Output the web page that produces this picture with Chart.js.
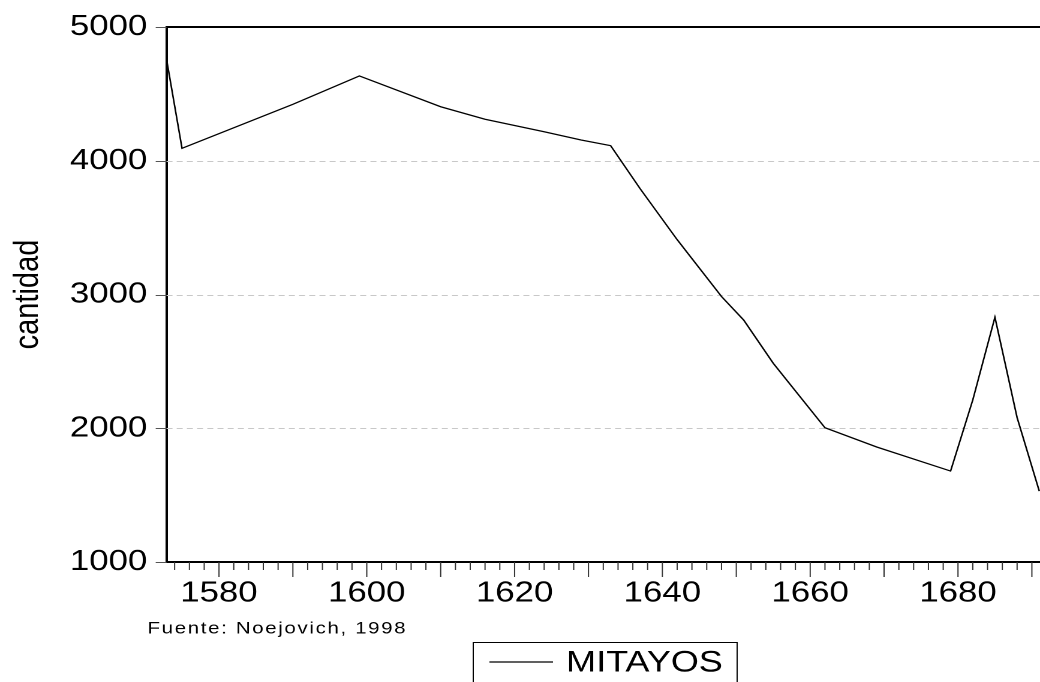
<!DOCTYPE html>
<html>
<head>
<meta charset="utf-8">
<script src="https://cdn.jsdelivr.net/npm/chart.js@4.4.1/dist/chart.umd.min.js"></script>
<style>
html, body { margin: 0; padding: 0; background: #fff; overflow: hidden; }
/* the reference is drawn a bit wider than tall, so the whole chart is stretched sideways */
#wrap { width: 867px; height: 682px; transform: scaleX(1.19954); transform-origin: 0 0; }
</style>
</head>
<body>
<div id="wrap"><canvas id="chart" width="867" height="682"></canvas></div>
<script>
// data
const years   = [1573, 1575, 1590, 1599, 1610, 1616, 1624, 1629, 1633, 1637, 1642, 1648, 1651, 1655, 1659, 1662, 1669, 1679, 1682, 1685, 1688, 1691];
const mitayos = [4729, 4093, 4422, 4634, 4404, 4310, 4217, 4155, 4113, 3790, 3410, 2985, 2809, 2486, 2210, 2004, 1860, 1680, 2211, 2830, 2080, 1530];
const yTicks = [1000, 2000, 3000, 4000, 5000];
const xLabelYears = [1580, 1600, 1620, 1640, 1660, 1680];
const seriesName = 'MITAYOS';
const yTitle = 'cantidad';
const sourceNote = 'Fuente: Noejovich, 1998';

const FONT = '"Liberation Sans", Arial, sans-serif';

const decor = {
    id: 'decor',
    beforeDatasetsDraw(chart) {
        const ctx = chart.ctx;
        const a = chart.chartArea;
        const x = chart.scales.x, y = chart.scales.y;
        ctx.save();

        // dashed grid lines
        ctx.strokeStyle = '#c8c8c8';
        ctx.lineWidth = 1;
        ctx.setLineDash([5, 3.5]);
        yTicks.forEach(v => {
            if (v <= y.min || v >= y.max) return;
            const py = Math.round(y.getPixelForValue(v)) + 0.5;
            ctx.beginPath();
            ctx.moveTo(a.left, py);
            ctx.lineTo(a.right, py);
            ctx.stroke();
        });
        ctx.setLineDash([]);

        // top frame line
        ctx.strokeStyle = '#000';
        ctx.lineWidth = 2;
        const top = y.getPixelForValue(y.max);
        ctx.beginPath();
        ctx.moveTo(a.left, top);
        ctx.lineTo(a.right, top);
        ctx.stroke();

        // y tick marks
        ctx.strokeStyle = '#555';
        ctx.lineWidth = 1;
        yTicks.forEach(v => {
            const py = Math.round(y.getPixelForValue(v)) + 0.5;
            ctx.beginPath();
            ctx.moveTo(a.left - 9, py);
            ctx.lineTo(a.left, py);
            ctx.stroke();
        });

        // x tick marks: every 2 years, longer every 10
        ctx.strokeStyle = '#333';
        for (let yr = Math.ceil(x.min / 2) * 2; yr <= x.max; yr += 2) {
            const px = x.getPixelForValue(yr);
            const len = yr % 10 === 0 ? 15 : 8;
            ctx.beginPath();
            ctx.moveTo(px, a.bottom);
            ctx.lineTo(px, a.bottom + len);
            ctx.stroke();
        }
        ctx.restore();
    },
    afterDraw(chart) {
        const ctx = chart.ctx;
        ctx.save();
        // source note
        ctx.fillStyle = '#000';
        ctx.font = '17px ' + FONT;
        ctx.letterSpacing = '1.4px';
        ctx.textBaseline = 'middle';
        ctx.fillText(sourceNote, 123, 629);
        ctx.letterSpacing = '0px';

        // legend box
        ctx.strokeStyle = '#000';
        ctx.lineWidth = 1;
        ctx.strokeRect(394.5, 642.5, 220, 60);
        ctx.lineWidth = 1.2;
        ctx.beginPath();
        ctx.moveTo(408, 662);
        ctx.lineTo(461, 662);
        ctx.stroke();
        ctx.font = '30px ' + FONT;
        ctx.fillText(chart.data.datasets[0].label, 472, 663);
        ctx.restore();
    }
};

new Chart(document.getElementById('chart'), {
    type: 'line',
    data: {
        datasets: [{
            label: seriesName,
            data: years.map((yr, i) => ({ x: yr, y: mitayos[i] })),
            borderColor: '#000',
            borderWidth: 1.3,
            pointRadius: 0,
            tension: 0,
            fill: false
        }]
    },
    options: {
        responsive: false,
        animation: false,
        devicePixelRatio: 2,
        layout: { padding: { top: 27, right: 0, left: 0, bottom: 0 } },
        plugins: {
            legend: { display: false },
            tooltip: { enabled: false }
        },
        scales: {
            x: {
                type: 'linear',
                min: 1572.9,
                max: 1691.1,
                afterFit(s) { s.height = 120; s.paddingLeft = 0; s.paddingRight = 0; },
                afterBuildTicks(s) { s.ticks = xLabelYears.map(v => ({ value: v })); },
                grid: { display: false, drawTicks: false },
                border: { display: true, color: '#000', width: 2 },
                ticks: {
                    autoSkip: false,
                    maxRotation: 0,
                    padding: 14,
                    color: '#000',
                    font: { family: FONT, size: 29 },
                    callback: v => String(v)
                }
            },
            y: {
                min: 1000,
                max: 5000,
                afterFit(s) { s.width = 138.8; s.paddingTop = 0; s.paddingBottom = 0; },
                afterBuildTicks(s) { s.ticks = yTicks.map(v => ({ value: v })); },
                grid: { display: false, drawTicks: false },
                border: { display: true, color: '#000', width: 2 },
                ticks: {
                    padding: 16,
                    color: '#000',
                    font: { family: FONT, size: 29 },
                    callback: v => String(v)
                },
                title: {
                    display: true,
                    text: yTitle,
                    color: '#000',
                    font: { family: FONT, size: 29 },
                    padding: { top: 6, bottom: 0 }
                }
            }
        }
    },
    plugins: [decor]
});
</script>
</body>
</html>
